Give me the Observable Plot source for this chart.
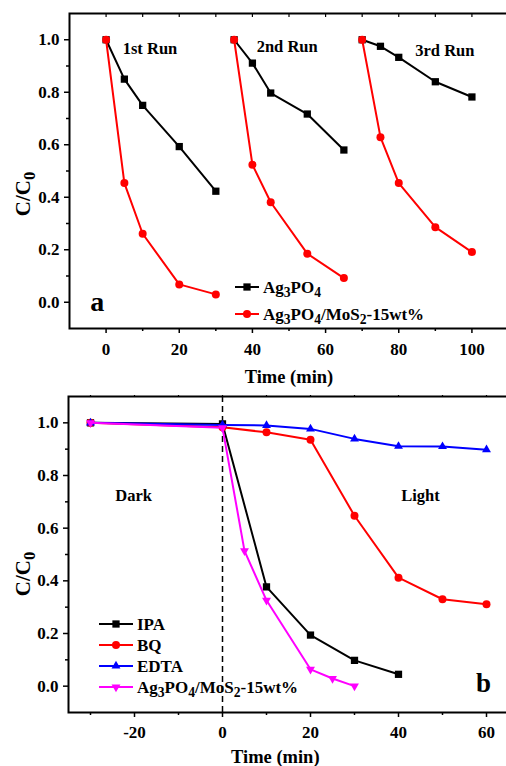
<!DOCTYPE html>
<html>
<head>
<meta charset="utf-8">
<script src="https://cdn.jsdelivr.net/npm/d3@7"></script>
<script src="https://cdn.jsdelivr.net/npm/@observablehq/plot@0.6"></script>
<style>
  html, body { margin: 0; padding: 0; background: white; overflow: hidden; }
  #wrap { position: relative; width: 506px; height: 766px; overflow: hidden; background: white;
          font-family: "Liberation Serif", "Times New Roman", serif; font-weight: bold; }
  .panel { position: absolute; left: 0; }
  .panel svg { max-width: none !important; }
  .leg { position: absolute; display: flex; align-items: center; font-size: 17px; line-height: 1; white-space: nowrap; color: black; }
  .leg svg { display: block; margin-right: 4px; }
  .leg sub { font-size: 0.8em; vertical-align: -0.28em; line-height: 0; }
</style>
</head>
<body>
<div id="wrap"></div>
<script>
// ---------- Panel (a) data ----------
const aTime   = [0, 5, 10, 20, 30,  35, 40, 45, 55, 65,  70, 75, 80, 90, 100];
const aRun    = [1, 1, 1, 1, 1,     2, 2, 2, 2, 2,      3, 3, 3, 3, 3];
const agValues  = [1.0, 0.85, 0.75, 0.593, 0.423,  1.0, 0.911, 0.797, 0.717, 0.58,  1.0, 0.975, 0.933, 0.84, 0.782];
const mosValues = [1.0, 0.454, 0.261, 0.068, 0.030, 1.0, 0.524, 0.381, 0.185, 0.092, 1.0, 0.629, 0.454, 0.286, 0.191];
const runLabels = ["1st Run", "2nd Run", "3rd Run"];
const runLabelX = [12, 49.5, 92.6];
const runLabelY = [0.966, 0.973, 0.958];
const aXTicks = [0, 20, 40, 60, 80, 100];
const aXMinor = [10, 30, 50, 70, 90];
const aXTop   = [0, 10, 20, 30, 40, 50, 60, 70, 80, 90, 100];

// ---------- Panel (b) data ----------
const ipaTime = [-30, 0, 10, 20, 30, 40];
const ipaValues = [1.0, 0.996, 0.377, 0.194, 0.098, 0.045];
const bqTime = [-30, 0, 10, 20, 30, 40, 50, 60];
const bqValues = [1.0, 0.983, 0.964, 0.936, 0.647, 0.412, 0.33, 0.311];
const edtaTime = [-30, 0, 10, 20, 30, 40, 50, 60];
const edtaValues = [1.0, 0.992, 0.99, 0.977, 0.939, 0.911, 0.91, 0.898];
const catTime = [-30, 0, 5, 10, 20, 25, 30];
const catValues = [1.0, 0.981, 0.514, 0.326, 0.064, 0.029, 0.0];
const bXTicks = [-20, 0, 20, 40, 60];
const bXMinor = [-30, -10, 10, 30, 50];
const bXTop = [-30, -20, -10, 0, 10, 20, 30, 40, 50, 60];

const yTicks = [0, 0.2, 0.4, 0.6, 0.8, 1.0];
const yMinor = [0.1, 0.3, 0.5, 0.7, 0.9];

const legendA = [
  {html: "Ag<sub>3</sub>PO<sub>4</sub>", color: "black", symbol: "square"},
  {html: "Ag<sub>3</sub>PO<sub>4</sub>/MoS<sub>2</sub>-15wt%", color: "red", symbol: "circle"}
];
const legendB = [
  {html: "IPA", color: "black", symbol: "square"},
  {html: "BQ", color: "red", symbol: "circle"},
  {html: "EDTA", color: "blue", symbol: "triangle"},
  {html: "Ag<sub>3</sub>PO<sub>4</sub>/MoS<sub>2</sub>-15wt%", color: "magenta", symbol: "tridown"}
];

// downward triangle symbol
const triangleDown = {
  draw(context, size) {
    const y = -Math.sqrt(size / (Math.sqrt(3) * 3));
    context.moveTo(0, -y * 2);
    context.lineTo(-Math.sqrt(3) * y, y);
    context.lineTo(Math.sqrt(3) * y, y);
    context.closePath();
  }
};
const rOf = s => (s === "triangle" || s === "tridown") ? 3.3 : (s === "square" ? 4.1 : 4);

const style = {fontFamily: "Liberation Serif, Times New Roman, serif", fontWeight: "bold", fontSize: "17px",
               color: "black", background: "transparent", overflow: "visible"};

const wrap = document.getElementById("wrap");

// y-axis title with subscript, appended to the plot's SVG (after it is in the DOM)
function yTitle(svg, bx, cy) {
  const t = d3.select(svg).append("text")
    .attr("text-anchor", "start")
    .attr("font-size", 21)
    .attr("font-weight", "bold")
    .attr("fill", "black")
    .style("white-space", "normal");
  t.append("tspan").text("C/C");
  t.append("tspan").attr("dy", "0.3em").attr("font-size", "0.8em").text("0");
  let len = 0;
  try { len = t.node().getComputedTextLength(); } catch (e) { len = 0; }
  if (!(len > 10)) len = 45;
  t.attr("transform", `translate(${bx},${cy + len / 2}) rotate(-90)`);
}

const plain = d => String(d);

function yAxes() {
  return [
    Plot.axisY({ticks: yTicks, tickSize: 5, tickPadding: 5, tickFormat: d3.format(".1f"), label: null, strokeWidth: 1.5}),
    Plot.axisY({ticks: yMinor, tickSize: 3, text: null, label: null, strokeWidth: 1.5})
  ];
}

// ---------- Panel (a) ----------
const aData = aTime.map((t, i) => ({t, run: aRun[i], ag: agValues[i], mos: mosValues[i]}));
const plotA = Plot.plot({
  width: 510, height: 390,
  marginLeft: 69, marginRight: 2, marginTop: 13, marginBottom: 62,
  style,
  x: {domain: [-10, 110]},
  y: {domain: [-0.1, 1.1]},
  marks: [
    ...yAxes(),
    Plot.axisX({ticks: aXTicks, tickSize: 5, tickPadding: 9, tickFormat: plain, label: null, strokeWidth: 1.5}),
    Plot.axisX({ticks: aXMinor, tickSize: 3, text: null, label: null, strokeWidth: 1.5}),
    Plot.axisX({anchor: "top", ticks: aXTop, tickSize: 3, dy: 3, text: null, label: null, strokeWidth: 1.2}),
    Plot.line(aData, {x: "t", y: "ag", z: "run", stroke: "black", strokeWidth: 2}),
    Plot.dot(aData, {x: "t", y: "ag", symbol: "square", r: 4.1, fill: "black"}),
    Plot.line(aData, {x: "t", y: "mos", z: "run", stroke: "red", strokeWidth: 2}),
    Plot.dot(aData, {x: "t", y: "mos", symbol: "circle", r: 4, fill: "red"}),
    Plot.text(runLabels, {x: (d, i) => runLabelX[i], y: (d, i) => runLabelY[i], text: d => d, fontSize: 16.5}),
    Plot.text(["a"], {x: () => -2.4, y: () => 0.0, text: d => d, fontSize: 28}),
    Plot.text(["Time (min)"], {x: () => 50, y: () => -0.285, textAnchor: "middle", lineAnchor: "middle", text: d => d, fontSize: 18.5}),
    Plot.frame({stroke: "black", strokeWidth: 2})
  ]
});
const divA = document.createElement("div");
divA.className = "panel"; divA.style.top = "0px";
divA.appendChild(plotA);
wrap.appendChild(divA);
yTitle(plotA, 30, 194);

// ---------- Panel (b) ----------
const ipaData = ipaTime.map((t, i) => ({t, v: ipaValues[i]}));
const bqData = bqTime.map((t, i) => ({t, v: bqValues[i]}));
const edtaData = edtaTime.map((t, i) => ({t, v: edtaValues[i]}));
const catData = catTime.map((t, i) => ({t, v: catValues[i]}));
const plotB = Plot.plot({
  width: 510, height: 376,
  marginLeft: 68, marginRight: 2, marginTop: 6, marginBottom: 54,
  style,
  x: {domain: [-35, 65]},
  y: {domain: [-0.1, 1.1]},
  marks: [
    ...yAxes(),
    Plot.axisX({ticks: bXTicks, tickSize: 5, tickPadding: 8, tickFormat: plain, label: null, strokeWidth: 1.5}),
    Plot.axisX({ticks: bXMinor, tickSize: 3, text: null, label: null, strokeWidth: 1.5}),
    Plot.axisX({anchor: "top", ticks: bXTop, tickSize: 2, text: null, label: null, strokeWidth: 1.2}),
    Plot.ruleX([0], {stroke: "black", strokeWidth: 1.5, strokeDasharray: "6,4"}),
    Plot.line(ipaData, {x: "t", y: "v", stroke: "black", strokeWidth: 2}),
    Plot.dot(ipaData, {x: "t", y: "v", symbol: "square", r: 4.1, fill: "black"}),
    Plot.line(bqData, {x: "t", y: "v", stroke: "red", strokeWidth: 2}),
    Plot.dot(bqData, {x: "t", y: "v", symbol: "circle", r: 4, fill: "red"}),
    Plot.line(edtaData, {x: "t", y: "v", stroke: "blue", strokeWidth: 2}),
    Plot.dot(edtaData, {x: "t", y: "v", symbol: "triangle", r: 3.3, fill: "blue"}),
    Plot.line(catData, {x: "t", y: "v", stroke: "magenta", strokeWidth: 2}),
    Plot.dot(catData, {x: "t", y: "v", symbol: triangleDown, r: 3.3, fill: "magenta"}),
    Plot.text(["Dark", "Light"], {x: (d, i) => [-20.2, 45][i], y: () => 0.724, text: d => d, fontSize: 16.5}),
    Plot.text(["b"], {x: () => 59.3, y: () => 0.01, text: d => d, fontSize: 27}),
    Plot.text(["Time (min)"], {x: () => 12, y: () => -0.27, textAnchor: "middle", lineAnchor: "middle", text: d => d, fontSize: 18.5}),
    Plot.frame({stroke: "black", strokeWidth: 2})
  ]
});
const divB = document.createElement("div");
divB.className = "panel"; divB.style.top = "390px";
divB.appendChild(plotB);
wrap.appendChild(divB);
yTitle(plotB, 30, 184);

// ---------- Legends (HTML overlay) ----------
function legend(items, left, tops, lineW) {
  items.forEach((it, i) => {
    const row = document.createElement("div");
    row.className = "leg";
    row.style.left = left + "px";
    row.style.top = (tops[i] - 10) + "px";
    row.style.height = "20px";
    const svg = d3.create("svg").attr("width", lineW).attr("height", 20);
    svg.append("line").attr("x1", 0).attr("x2", lineW).attr("y1", 10).attr("y2", 10)
      .attr("stroke", it.color).attr("stroke-width", 2);
    const sym = it.symbol === "tridown" ? triangleDown :
      it.symbol === "square" ? d3.symbolSquare : it.symbol === "triangle" ? d3.symbolTriangle : d3.symbolCircle;
    const r = rOf(it.symbol);
    svg.append("path").attr("transform", `translate(${lineW / 2},10)`)
      .attr("d", d3.symbol(sym, Math.PI * r * r)()).attr("fill", it.color);
    row.appendChild(svg.node());
    const span = document.createElement("span");
    span.innerHTML = it.html;
    row.appendChild(span);
    wrap.appendChild(row);
  });
}
legend(legendA, 235, [287, 314], 24);
legend(legendB, 99, [624, 645, 666, 687], 34);
</script>
</body>
</html>
